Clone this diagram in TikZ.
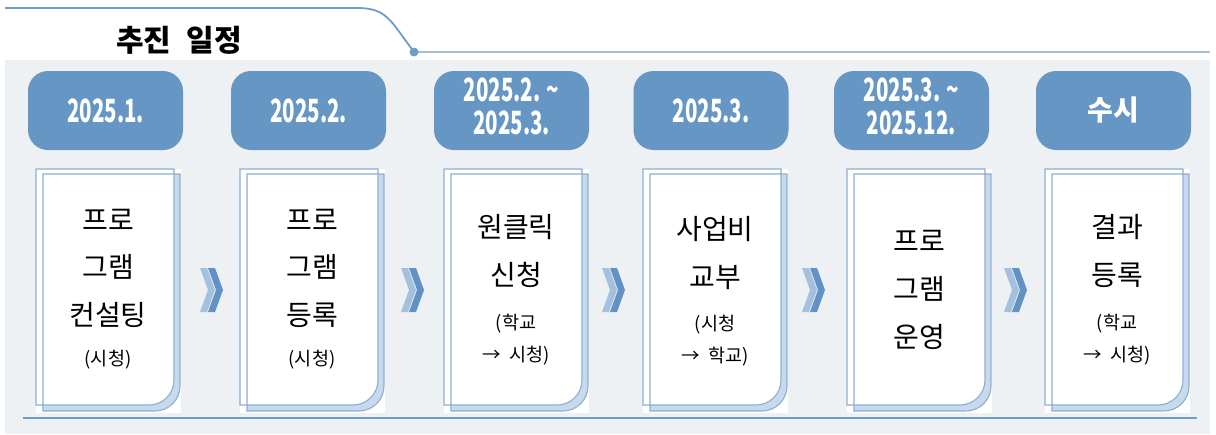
\documentclass[tikz,border=0pt]{standalone}
\usepackage{fontspec}
\usepackage{graphicx}
\setmainfont{Noto Sans CJK KR}
\definecolor{bgpanel}{HTML}{EDF1F4}
\definecolor{dateblue}{HTML}{6596C4}
\definecolor{cardline}{HTML}{8CAFD3}
\definecolor{band}{HTML}{C7D9EC}
\definecolor{rule}{HTML}{6F9CC8}
\definecolor{rulelight}{HTML}{A6C0DA}
\definecolor{chevlight}{HTML}{A3C0DF}
\definecolor{chevdark}{HTML}{6092C3}
\newcommand\narrowtxt[1]{\scalebox{0.64}[1]{#1}}
\newcommand\cardshape[1]{%
  \fill[white] (#1,169) rectangle ({#1+145},413);
  \path[fill=band] ({#1+7},174) -- ({#1+144},174) -- ({#1+144},386)
     .. controls ({#1+144},399.8) and ({#1+132.8},411) .. ({#1+119},411) -- ({#1+7},411) -- cycle;
  \path[fill=white] (#1,169) -- ({#1+138},169) -- ({#1+138},380)
     .. controls ({#1+138},393.8) and ({#1+126.8},405) .. ({#1+113},405) -- (#1,405) -- cycle;
  \draw[cardedge] ({#1+7},174) -- ({#1+144},174) -- ({#1+144},386)
     .. controls ({#1+144},399.8) and ({#1+132.8},411) .. ({#1+119},411) -- ({#1+7},411) -- cycle;
  \draw[cardedge] (#1,169) -- ({#1+138},169) -- ({#1+138},380)
     .. controls ({#1+138},393.8) and ({#1+126.8},405) .. ({#1+113},405) -- (#1,405) -- cycle;
}
\newcommand\chevron[1]{%
  \fill[chevlight] (#1,268) -- ({#1+7},268) -- ({#1+15},290) -- ({#1+7},312) -- (#1,312) -- ({#1+8},290) -- cycle;
  \fill[chevdark] ({#1+8},268) -- ({#1+15},268) -- ({#1+23},290) -- ({#1+15},312) -- ({#1+8},312) -- ({#1+16},290) -- cycle;
}
\begin{document}
\begin{tikzpicture}[x=1pt,y=-1pt,
  cardedge/.style={draw=cardline, line width=1.1pt},
  datebox/.style={fill=dateblue, rounded corners=20pt, minimum width=155pt, minimum height=79pt, inner sep=0pt},
  datetxt/.style={text=white, font=\fontsize{32}{36}\selectfont\bfseries, inner sep=0pt},
  bigtxt/.style={anchor=base, inner sep=0pt, font=\fontsize{28}{32}\selectfont},
  smalltxt/.style={anchor=base, inner sep=0pt, font=\fontsize{18.5}{22}\selectfont},
  titletxt/.style={inner sep=0pt, font=\fontsize{30}{34}\selectfont\bfseries}]
\useasboundingbox (0,0) rectangle (1216,434);
\fill[white] (0,0) rectangle (1216,434);
% panel
\fill[bgpanel] (5,60) rectangle (1210,434);
% header
\draw[rule, line width=1.8pt] (5,8) -- (357,8) .. controls (378,8) and (385,14) .. (395,26) -- (414,52);
\draw[rulelight, line width=1.2pt] (414,52) -- (1210,52);
\coordinate (hdot) at (414,52);
\fill[rule] (hdot) circle (4.5);
\node[titletxt] (title) at (179,40) {추진\enspace 일정};
% bottom rule
\draw[rule, line width=1.6pt] (23,418) -- (1197,418);
% date boxes
\node[datebox] (d1) at (105.5,110.5) {};
\node[datebox] (d2) at (308.5,110.5) {};
\node[datebox] (d3) at (511.5,110.5) {};
\node[datebox] (d4) at (711,110.5) {};
\node[datebox] (d5) at (911.5,110.5) {};
\node[datebox] (d6) at (1113.5,110.5) {};
\node[datetxt] (d1t) at (d1) {\narrowtxt{2025.1.}};
\node[datetxt] (d2t) at (d2) {\narrowtxt{2025.2.}};
\node[datetxt] (d3t) at (d3) {\narrowtxt{\begin{tabular}{@{}c@{}}2025.2. \textasciitilde\\[-3pt]2025.3.\end{tabular}}};
\node[datetxt] (d4t) at (d4) {\narrowtxt{2025.3.}};
\node[datetxt] (d5t) at (d5) {\narrowtxt{\begin{tabular}{@{}c@{}}2025.3. \textasciitilde\\[-3pt]2025.12.\end{tabular}}};
\node[datetxt, font=\fontsize{28}{32}\selectfont\bfseries] (d6t) at (d6) {수시};
% cards
\cardshape{36}
\cardshape{240}
\cardshape{444}
\cardshape{643}
\cardshape{847}
\cardshape{1045}
% chevrons
\chevron{200}
\chevron{401}
\chevron{602}
\chevron{802}
\chevron{1004}
% card 1
\node[bigtxt] (c1a) at (108,230.5) {프로};
\node[bigtxt] (c1b) at (108,277.5) {그램};
\node[bigtxt] (c1c) at (108,325.5) {컨설팅};
\node[smalltxt] (c1d) at (108,365) {(시청)};
% card 2
\node[bigtxt] (c2a) at (312,230.5) {프로};
\node[bigtxt] (c2b) at (312,277.5) {그램};
\node[bigtxt] (c2c) at (312,325.5) {등록};
\node[smalltxt] (c2d) at (312,365) {(시청)};
% card 3
\node[bigtxt] (c3a) at (516,237.5) {원클릭};
\node[bigtxt] (c3b) at (516,285.5) {신청};
\node[smalltxt] (c3c) at (516,329) {(학교};
\node[smalltxt] (c3d) at (516,361) {→ \ 시청)};
% card 4
\node[bigtxt] (c4a) at (715,239.5) {사업비};
\node[bigtxt] (c4b) at (715,287.5) {교부};
\node[smalltxt] (c4c) at (715,330) {(시청};
\node[smalltxt] (c4d) at (715,362) {→ \ 학교)};
% card 5
\node[bigtxt] (c5a) at (919,251.5) {프로};
\node[bigtxt] (c5b) at (919,299.5) {그램};
\node[bigtxt] (c5c) at (919,347.5) {운영};
% card 6
\node[bigtxt] (c6a) at (1117,237.5) {결과};
\node[bigtxt] (c6b) at (1117,285.5) {등록};
\node[smalltxt] (c6c) at (1117,329) {(학교};
\node[smalltxt] (c6d) at (1117,361) {→ \ 시청)};
\end{tikzpicture}
\end{document}
